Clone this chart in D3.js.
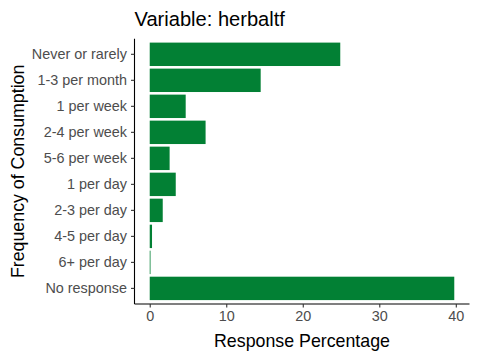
<!DOCTYPE html>
<html><head><meta charset="utf-8">
<script src="https://cdn.jsdelivr.net/npm/d3@7"></script>
<style>body{margin:0;background:#fff}svg{display:block}text{font-family:"Liberation Sans",Arial,sans-serif}</style>
</head><body>
<svg id="c" width="480" height="360"></svg>
<script>
const categories = ["Never or rarely","1-3 per month","1 per week","2-4 per week","5-6 per week","1 per day","2-3 per day","4-5 per day","6+ per day","No response"];
const values = [24.9, 14.5, 4.7, 7.3, 2.6, 3.4, 1.7, 0.3, 0.1, 39.8];
const xTicks = [0, 10, 20, 30, 40];
const title = "Variable: herbaltf";
const xTitle = "Response Percentage";
const yTitle = "Frequency of Consumption";

const svg = d3.select("#c");
const L = 134.5, R = 469.5, T = 38.7, B = 304;
const maxV = d3.max(values);
const pad = maxV * 0.05;
const x = d3.scaleLinear().domain([-pad, maxV + pad]).range([L, R]);
const n = categories.length;
const step = (B - T) / (n - 1 + 1.2);
const y = d3.scaleBand().domain(categories).range([T + 0.6*step - step/2, B - 0.6*step + step/2]).paddingInner(0.1).paddingOuter(0.05);

svg.append("g").selectAll("rect").data(categories).join("rect")
  .attr("x", x(0))
  .attr("y", d => y(d))
  .attr("width", (d,i) => x(values[i]) - x(0))
  .attr("height", y.bandwidth())
  .attr("fill", "#028034");

const xa = svg.append("g").attr("transform", `translate(0,${B})`)
  .call(d3.axisBottom(x).tickValues(xTicks).tickSize(3.5).tickPadding(3).tickFormat(d3.format("d")));
xa.select(".domain").attr("d", `M${L},0H${R}`).attr("stroke", "#000").attr("stroke-width", 1.1);
xa.selectAll(".tick line").attr("stroke", "#333").attr("stroke-width", 1.1);
xa.selectAll(".tick text").attr("fill", "#4D4D4D").attr("font-size", 14.4).attr("dy", "0.72em");

const ya = svg.append("g").attr("transform", `translate(${L},0)`)
  .call(d3.axisLeft(y).tickSize(3.5).tickPadding(4));
ya.select(".domain").attr("d", `M0,${T}V${B}`).attr("stroke", "#000").attr("stroke-width", 1.1);
ya.selectAll(".tick line").attr("stroke", "#333").attr("stroke-width", 1.1);
ya.selectAll(".tick text").attr("fill", "#4D4D4D").attr("font-size", 14.4);

svg.append("text").attr("x", L).attr("y", 26).attr("font-size", 20.1).attr("fill", "#000").text(title);
svg.append("text").attr("x", (L+R)/2).attr("y", 347).attr("text-anchor", "middle").attr("font-size", 17.8).attr("fill", "#000").text(xTitle);
svg.append("text").attr("transform", `translate(24,${(T+B)/2}) rotate(-90)`).attr("text-anchor", "middle").attr("font-size", 17.8).attr("fill", "#000").text(yTitle);
</script>
</body></html>
